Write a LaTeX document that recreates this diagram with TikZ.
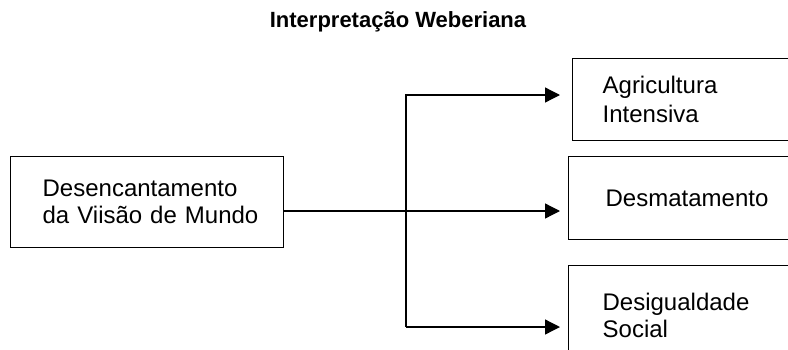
\documentclass[tikz,border=0pt]{standalone}
\usepackage{fontspec}
\setmainfont{Liberation Sans}
\usetikzlibrary{arrows.meta}
\tikzset{
  caixa/.style={draw, line width=1.3pt, anchor=north west, align=left, inner ysep=0pt, font=\fontsize{24}{27}\selectfont},
  seta/.style={line width=1.3pt, -{Triangle[length=15pt,width=15pt]}},
}
\begin{document}
\begin{tikzpicture}[x=1pt,y=-1pt]
\useasboundingbox (0,0) rectangle (788,349);
\clip (0,0) rectangle (788,349);
\node[font=\fontsize{22}{26}\selectfont\bfseries] (titulo) at (398,22) {Interpretação Weberiana};
\node[caixa, minimum width=273pt, minimum height=91pt, text width=209pt, inner xsep=32pt] (desenc) at (10,156) {\mbox{Desencantamento}\\\mbox{da Viisão de Mundo}};
\node[caixa, minimum height=82pt, text width=200pt, inner xsep=30pt] (agri) at (572,58) {Agricultura\\[2pt]Intensiva};
\node[caixa, minimum height=83pt, text width=200pt, inner xsep=37pt] (desmat) at (568,156) {Desmatamento};
\node[caixa, minimum height=102pt, text depth=30pt, text width=200pt, inner xsep=34pt] (desig) at (568,265) {Desigualdade\\Social};
\coordinate (alto) at (406,95);
\coordinate (meio) at (406,211);
\coordinate (baixo) at (406,327);
\draw[seta, shorten >=12pt] (baixo) -- (alto) -- (agri.west |- alto);
\draw[seta, shorten >=8pt] (desenc.east |- meio) -- (desmat.west |- meio);
\draw[seta, shorten >=8pt] (baixo) -- (desig.west |- baixo);
\end{tikzpicture}
\end{document}
